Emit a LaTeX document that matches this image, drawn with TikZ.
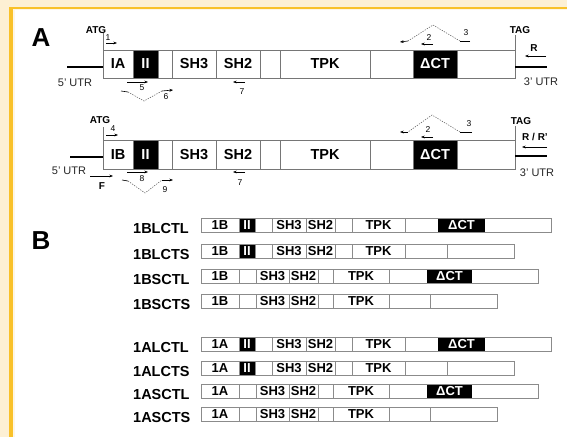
\documentclass[tikz,border=0pt]{standalone}
\usepackage{fontspec}
\setmainfont{Liberation Sans}
\usepackage{xcolor}
\usetikzlibrary{arrows.meta, positioning}
\definecolor{frameCream}{HTML}{FDF0D4}
\definecolor{frameGold}{HTML}{F9C129}
\definecolor{boxGray}{HTML}{767676}
\newcommand{\fs}[1]{\fontsize{#1}{#1}\selectfont}

% one construct of panel B with the exon II block: y, name, exon, 1 = CTL / 0 = CTS
\newcommand{\longrow}[4]{%
  \node[rowlbl] (#2) at (133,#1+3.5) {#2};
  \fill (239,#1-7) rectangle (255,#1+7);
  \ifnum#4=1\relax
    \fill (438,#1-7) rectangle (485,#1+7);
    \draw[bbar] (201,#1-7) rectangle (551,#1+7);
    \node[bwhite] (#2-ct) at (461.5,#1) {ΔCT};
  \else
    \draw[bbar] (201,#1-7) rectangle (514,#1+7);
    \draw[bbar] (447,#1-7) -- (447,#1+7);
  \fi
  \foreach \d in {239,255,272,306,335,352,405}
    \draw[bbar] (\d,#1-7) -- (\d,#1+7);
  \node[bwhite] (#2-ii) at (247,#1) {II};
  \node[blabel] (#2-ex) at (220,#1) {#3};
  \node[blabel] (#2-sh3) at (289,#1) {SH3};
  \node[blabel] (#2-sh2) at (320.5,#1) {SH2};
  \node[blabel] (#2-tpk) at (378.5,#1) {TPK};
}
% one construct of panel B without exon II: y, name, exon, 1 = CTL / 0 = CTS
\newcommand{\shortrow}[4]{%
  \node[rowlbl] (#2) at (133,#1+3.5) {#2};
  \ifnum#4=1\relax
    \fill (427,#1-7) rectangle (472,#1+7);
    \draw[bbar] (201,#1-7) rectangle (538,#1+7);
    \node[bwhite] (#2-ct) at (449.5,#1) {ΔCT};
  \else
    \draw[bbar] (201,#1-7) rectangle (497,#1+7);
    \draw[bbar] (430,#1-7) -- (430,#1+7);
  \fi
  \foreach \d in {239,256,289,318,333,389}
    \draw[bbar] (\d,#1-7) -- (\d,#1+7);
  \node[blabel] (#2-ex) at (220,#1) {#3};
  \node[blabel] (#2-sh3) at (272.5,#1) {SH3};
  \node[blabel] (#2-sh2) at (303.5,#1) {SH2};
  \node[blabel] (#2-tpk) at (361,#1) {TPK};
}

\begin{document}
\begin{tikzpicture}[
            x=1pt, y=-1pt,
            >={Stealth[length=3.6pt, width=2.8pt]},
            abox/.style   ={draw=boxGray, line width=0.9pt},
            bbar/.style   ={draw=boxGray!85, line width=0.9pt},
            utr/.style    ={line width=2.6pt, draw=black},
            primer/.style ={->, line width=0.6pt},
            splice/.style ={line width=0.5pt, draw=black!65, dash pattern=on 1.3pt off 1.2pt},
            alabel/.style ={font=\bfseries\fs{14.5}, inner sep=0pt},
            awhite/.style ={alabel, text=white},
            blabel/.style ={font=\bfseries\fs{13}, inner sep=0pt},
            bwhite/.style ={blabel, text=white},
            rowlbl/.style ={font=\bfseries\fs{14.5}, inner sep=0pt, anchor=west},
            site/.style   ={font=\bfseries\fs{10}, inner sep=0pt},
            utrlbl/.style ={font=\fs{11}, inner sep=0pt, text=black!85},
            plbl/.style   ={font=\fs{8.5}, inner sep=0pt},
            panel/.style  ={font=\bfseries\fs{26}, inner sep=0pt}
        ]
        \useasboundingbox (0,0) rectangle (567,437);
        %% ---- frame -----------------------------------------------------------
        \fill[frameCream] (0,0) rectangle (567,437);
        \fill[frameGold] (9,6.5) rectangle (567,437);
        \fill[frameCream!60] (12.5,9) rectangle (567,437);
        \fill[white] (15,10) rectangle (567,437);

        \node[panel] (pa) at (41,38) {A};
        \node[panel] (pb) at (41,241) {B};

        %% ---- panel A, top: transcript with exon IA ---------------------------
        \fill (133,50) rectangle (158,78);
        \fill (413,50) rectangle (457,78);
        \draw[abox] (103,50) rectangle (515,78);
        \foreach \d in {133,158,172,216,260,280,370,413,457}
            \draw[abox] (\d,50) -- (\d,78);
        \draw[abox] (103,33) -- (103,50);
        \draw[abox] (515,35) -- (515,50);
        \draw[utr] (67,67) -- (103,67);
        \draw[utr] (515,67) -- (547,67);

        \node[alabel] (ia)   at (118,64)   {IA};
        \node[awhite] (iia)  at (145.5,64) {II};
        \node[alabel] (sh3a) at (194,64)   {SH3};
        \node[alabel] (sh2a) at (238,64)   {SH2};
        \node[alabel] (tpka) at (325,64)   {TPK};
        \node[awhite] (cta)  at (435,64)   {ΔCT};

        \node[site]   (atga) at (96,30)  {ATG};
        \node[site]   (taga) at (520,30) {TAG};
        \node[utrlbl] (u5a)  at (75,83)  {5' UTR};
        \node[utrlbl] (u3a)  at (541,82) {3' UTR};
        \node[site]   (ra)   at (534,48) {R};
        \draw[primer] (546,56) -- (525,56);

        % primers above and below the transcript
        \draw[primer] (106,43) -- (117,43);
        \node[plbl] (p1) at (108,38) {1};
        \draw[primer] (433,44) -- (421,44);
        \node[plbl] (p2a) at (429,38) {2};
        \draw[line width=0.6pt] (470,41) -- (460,41);
        \draw[splice] (460,41) -- (433,25) -- (408,41);
        \draw[primer] (408,41) -- (400,42);
        \node[plbl] (p3a) at (466,33) {3};
        \draw[primer] (127,82) -- (148,82);
        \node[plbl] (p5) at (142,88) {5};
        \draw[line width=0.6pt] (121,91) -- (128,92);
        \draw[splice] (128,92) -- (144,101) -- (162,91);
        \draw[primer] (162,91) -- (173,90);
        \node[plbl] (p6) at (166,97) {6};
        \draw[primer] (245,82) -- (233,82);
        \node[plbl] (p7a) at (242,92) {7};

        %% ---- panel A, bottom: transcript with exon IB ------------------------
        \fill (133,140) rectangle (158,169);
        \fill (413,140) rectangle (457,169);
        \draw[abox] (103,140) rectangle (515,169);
        \foreach \d in {133,158,172,216,260,280,370,413,457}
            \draw[abox] (\d,140) -- (\d,169);
        \draw[abox] (103,127) -- (103,140);
        \draw[abox] (515,126) -- (515,140);
        \draw[utr] (70,157) -- (103,157);
        \draw[utr] (515,156) -- (547,156);

        \node[alabel] (ib)   at (118,154.5)   {IB};
        \node[awhite] (iib)  at (145.5,154.5) {II};
        \node[alabel] (sh3b) at (194,154.5)   {SH3};
        \node[alabel] (sh2b) at (238,154.5)   {SH2};
        \node[alabel] (tpkb) at (325,154.5)   {TPK};
        \node[awhite] (ctb)  at (435,154.5)   {ΔCT};

        \node[site]   (atgb) at (100,120) {ATG};
        \node[site]   (tagb) at (521,121) {TAG};
        \node[utrlbl] (u5b)  at (69,171)  {5' UTR};
        \node[utrlbl] (u3b)  at (537,173) {3' UTR};
        \node[site]   (rb)   at (535,137) {R / R'};
        \draw[primer] (547,147) -- (522,147);

        \draw[primer] (106,135) -- (118,135);
        \node[plbl] (p4) at (113,129) {4};
        \draw[primer] (433,137) -- (421,137);
        \node[plbl] (p2b) at (428,130) {2};
        \draw[line width=0.6pt] (472,132) -- (460,132);
        \draw[splice] (460,132) -- (432,115) -- (408,132);
        \draw[primer] (408,132) -- (400,132);
        \node[plbl] (p3b) at (469,124) {3};
        \draw[primer] (90,176) -- (113,176);
        \node[site] (pf) at (102,186) {F};
        \draw[primer] (127,172) -- (148,172);
        \node[plbl] (p8) at (142,179) {8};
        \draw[line width=0.6pt] (122,180) -- (128,181);
        \draw[splice] (128,181) -- (145,193) -- (162,180);
        \draw[primer] (162,180) -- (173,180);
        \node[plbl] (p9) at (165,190) {9};
        \draw[primer] (245,172) -- (233,172);
        \node[plbl] (p7b) at (240,183) {7};

        %% ---- panel B: the eight constructs -----------------------------------
        \longrow{225}{1BLCTL}{1B}{1}
        \longrow{251}{1BLCTS}{1B}{0}
        \shortrow{276}{1BSCTL}{1B}{1}
        \shortrow{301}{1BSCTS}{1B}{0}

        \longrow{344}{1ALCTL}{1A}{1}
        \longrow{368}{1ALCTS}{1A}{0}
        \shortrow{391}{1ASCTL}{1A}{1}
        \shortrow{414}{1ASCTS}{1A}{0}
    \end{tikzpicture}
\end{document}
